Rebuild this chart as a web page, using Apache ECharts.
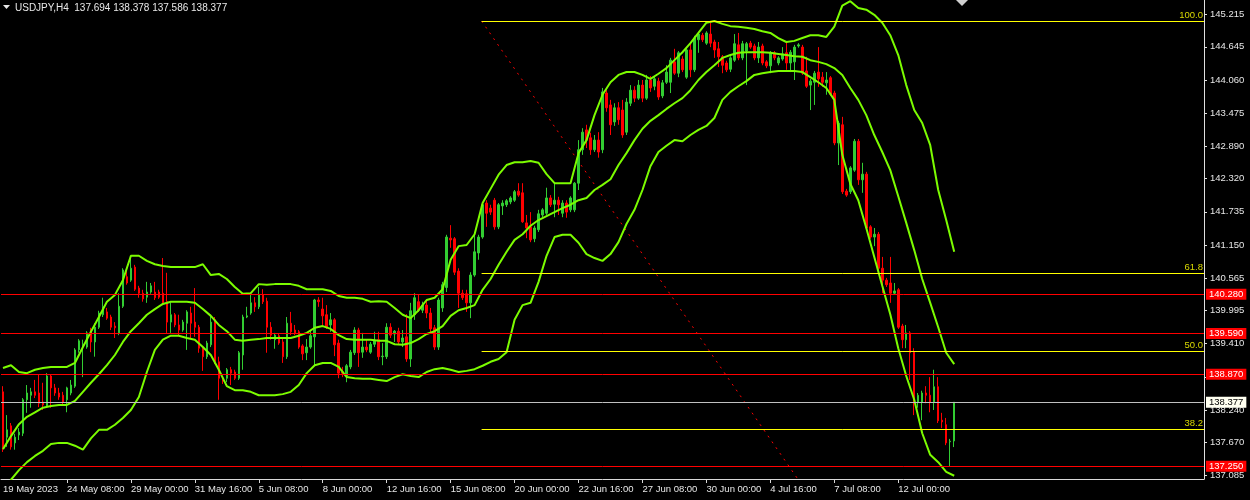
<!DOCTYPE html>
<html><head><meta charset="utf-8">
<script src="https://cdn.jsdelivr.net/npm/echarts@6.0.0/dist/echarts.min.js"></script>
<style>html,body{margin:0;padding:0;background:#000;}#c{width:1250px;height:500px;}</style>
</head><body><div id="c"></div>
<script>
const symbolTitle = 'USDJPY,H4';
const lastOHLC = [137.694, 138.378, 137.586, 138.377];
const timeLabels = ['19 May 2023','24 May 08:00','29 May 00:00','31 May 16:00','5 Jun 08:00','8 Jun 00:00','12 Jun 16:00','15 Jun 08:00','20 Jun 00:00','22 Jun 16:00','27 Jun 08:00','30 Jun 00:00','4 Jul 16:00','7 Jul 08:00','12 Jul 00:00'];
const barsPerLabel = 16;
const totalSlots = 301;
const priceTicks = [145.215,144.645,144.060,143.475,142.890,142.320,141.735,141.150,140.565,139.995,139.410,138.825,138.240,137.670,137.085];
const priceMin = 137.023, priceMax = 145.471;
// [open, close, low, high]
const candles = [
[138.56,137.57,137.50,138.66],[137.76,137.89,137.59,138.15],[137.96,137.59,137.54,138.01],[137.66,137.76,137.54,137.82],[137.80,137.85,137.71,137.92],
[137.83,138.42,137.78,138.45],[138.42,138.54,138.19,138.68],[138.50,138.56,138.28,138.63],[138.56,138.50,138.45,138.77],[138.54,138.36,138.29,138.87],
[138.38,138.33,138.24,138.72],[138.31,138.84,138.28,138.89],[138.84,138.63,138.28,138.87],[138.63,138.54,138.49,138.70],[138.54,138.47,138.42,138.63],
[138.50,138.38,138.33,138.56],[138.42,138.63,138.20,138.65],[138.54,138.68,138.50,138.77],[138.66,139.30,138.63,139.33],[139.30,139.46,139.25,139.49],
[139.37,139.40,138.82,139.48],[139.35,139.60,139.32,139.63],[139.65,139.44,139.26,139.69],[139.44,139.70,139.18,139.77],[139.70,139.95,139.67,139.99],
[139.92,140.06,139.88,140.22],[139.97,139.86,139.83,140.04],[139.88,139.70,139.65,139.92],[139.72,139.69,139.51,139.79],[139.60,140.07,139.56,140.30],
[140.07,140.71,140.04,140.74],[140.59,140.48,140.45,140.74],[140.53,140.74,140.50,140.94],[140.76,140.37,140.34,140.80],[140.39,140.30,140.22,140.43],
[140.30,140.20,140.15,140.36],[140.23,140.32,140.13,140.50],[140.32,140.43,140.29,140.48],[140.32,140.22,140.18,140.50],[140.32,140.23,140.20,140.36],
[140.30,140.13,140.09,140.92],[140.15,139.79,139.60,140.66],[139.79,139.92,139.60,140.13],[139.92,139.74,139.70,139.95],[139.74,139.65,139.56,139.92],
[139.65,139.79,139.62,139.83],[139.77,139.97,139.30,140.00],[139.95,139.77,139.51,140.06],[139.79,139.70,139.53,140.39],[139.70,139.33,139.25,139.74],
[139.33,139.18,138.93,139.37],[139.18,139.42,139.14,139.46],[139.39,139.79,139.35,139.92],[139.83,139.09,139.05,139.88],[139.09,138.80,138.42,139.18],
[138.80,138.75,138.70,138.84],[138.80,138.95,138.73,138.98],[138.95,138.89,138.68,139.00],[138.91,138.80,138.77,138.95],[138.80,139.25,138.77,139.28],
[139.21,139.88,138.95,139.92],[139.88,139.90,139.86,140.06],[139.95,140.13,139.92,140.27],[140.13,140.06,139.97,140.23],[140.06,140.27,140.02,140.41],
[140.27,140.15,140.11,140.37],[140.16,139.70,139.25,140.22],[139.70,139.56,139.48,139.79],[139.48,139.56,139.32,139.60],[139.55,139.42,139.39,139.58],
[139.44,139.18,139.07,139.51],[139.18,139.77,139.14,139.88],[139.77,139.62,139.56,139.97],[139.65,139.60,139.56,139.74],[139.62,139.35,139.32,139.65],
[139.37,139.23,139.12,139.40],[139.25,139.35,139.12,139.49],[139.35,139.55,139.32,139.65],[139.53,140.18,139.03,140.20],[140.18,140.15,140.06,140.23],
[140.02,139.90,139.74,140.22],[139.92,139.70,139.67,140.09],[139.74,139.83,139.62,139.95],[139.83,139.39,139.19,139.86],[139.42,138.89,138.80,139.48],
[138.91,138.89,138.82,139.00],[138.84,139.02,138.73,139.05],[139.00,139.26,138.96,139.30],[139.25,139.65,139.21,139.70],[139.65,139.25,139.00,139.69],
[139.26,139.35,139.16,139.60],[139.35,139.30,139.26,139.48],[139.26,139.40,139.23,139.44],[139.40,139.46,139.35,139.62],[139.48,139.18,139.12,139.62],
[139.18,139.19,139.03,139.42],[139.18,139.70,139.14,139.77],[139.70,139.56,139.51,139.77],[139.58,139.63,139.44,139.65],[139.63,139.44,139.39,139.69],
[139.44,139.51,139.35,139.65],[139.53,139.14,139.09,139.93],[139.14,139.99,139.00,140.13],[139.92,140.22,139.83,140.30],[140.15,140.00,139.97,140.27],
[140.00,140.09,139.95,140.15],[140.09,139.95,139.86,140.18],[139.95,139.67,139.60,140.04],[139.69,139.35,139.30,139.74],[139.35,140.18,139.30,140.22],
[140.04,140.45,139.97,140.50],[140.40,141.29,140.32,141.33],[141.27,141.24,141.10,141.50],[141.26,140.67,140.62,141.29],[140.69,140.30,140.04,140.74],
[140.30,140.22,140.18,140.36],[140.29,140.13,139.97,140.36],[140.13,140.62,139.86,140.67],[140.62,141.03,140.59,141.38],[141.01,141.29,140.89,141.33],
[141.29,141.86,141.26,141.89],[141.89,141.71,141.47,141.94],[141.80,141.73,141.68,141.86],[141.94,141.47,141.42,141.98],[141.47,141.86,141.43,141.89],
[141.84,141.89,141.68,141.94],[141.86,141.93,141.82,141.96],[141.91,141.98,141.87,142.01],[141.94,142.09,141.91,142.12],[142.10,142.03,142.00,142.24],
[142.07,141.56,141.54,142.24],[141.54,141.45,141.27,141.68],[141.47,141.24,141.20,141.73],[141.26,141.45,141.20,141.49],[141.42,141.70,141.38,141.77],
[141.68,141.77,141.64,141.80],[141.71,141.98,141.68,142.16],[141.98,141.86,141.82,142.03],[141.87,141.94,141.64,142.26],[141.94,141.86,141.68,142.00],
[141.71,141.89,141.64,141.94],[141.89,141.73,141.63,141.94],[141.77,141.98,141.73,142.01],[141.77,142.24,141.73,142.26],[142.24,142.83,142.12,143.00],
[142.83,143.14,142.74,143.21],[143.18,143.00,142.86,143.27],[143.04,142.83,142.74,143.13],[142.83,143.00,142.79,143.09],[143.00,142.79,142.69,143.14],
[142.83,143.85,142.77,143.92],[143.83,143.57,143.50,143.88],[143.62,143.27,143.09,143.71],[143.32,143.57,143.25,143.65],[143.57,143.36,143.27,143.67],
[143.53,143.09,143.04,143.71],[143.14,143.67,143.09,143.74],[143.65,143.88,143.60,143.97],[143.88,143.74,143.67,143.95],[143.74,143.97,143.71,144.06],
[143.97,143.74,143.67,144.06],[143.74,144.06,143.71,144.15],[144.06,143.92,143.85,144.13],[143.95,144.08,143.88,144.13],[144.04,143.76,143.71,144.10],
[143.78,144.01,143.74,144.06],[144.02,144.20,143.99,144.32],[144.02,144.41,143.83,144.45],[144.38,144.18,144.15,144.61],[144.18,144.54,144.11,144.57],
[144.43,144.24,144.20,144.48],[144.11,144.59,144.08,144.63],[144.59,144.24,144.11,144.73],[144.24,144.80,144.20,144.84],[144.77,144.87,144.54,144.91],
[144.85,144.77,144.73,144.89],[144.71,144.89,144.68,144.92],[144.87,144.71,144.64,145.07],[144.73,144.59,144.45,144.77],[144.61,144.47,144.29,144.73],
[144.47,144.32,144.18,144.50],[144.36,144.24,144.20,144.40],[144.25,144.45,144.20,144.48],[144.41,144.70,144.38,144.87],[144.68,144.45,144.41,144.89],
[144.45,144.70,144.41,144.75],[144.57,144.70,143.97,144.73],[144.71,144.64,144.61,144.75],[144.66,144.45,144.41,144.70],[144.45,144.64,144.36,144.73],
[144.66,144.36,144.32,144.70],[144.38,144.31,144.27,144.41],[144.31,144.54,144.18,144.57],[144.54,144.45,144.41,144.57],[144.36,144.45,144.32,144.48],
[144.43,144.52,144.40,144.64],[144.54,144.36,144.24,144.73],[144.36,144.55,144.20,144.59],[144.38,144.64,144.06,144.68],[144.66,144.68,144.63,144.71],
[144.64,144.18,144.15,144.68],[144.22,143.95,143.92,144.47],[143.97,144.04,143.53,144.08],[144.02,144.18,143.62,144.22],[144.20,144.08,143.94,144.64],
[144.11,144.02,143.94,144.20],[144.01,144.06,143.80,144.20],[144.10,143.81,143.78,144.13],[143.83,142.95,142.91,143.87],[142.95,143.30,142.56,143.34],
[143.27,142.09,142.05,143.41],[142.10,142.03,142.00,142.14],[142.09,142.51,142.05,142.54],[142.47,142.98,142.44,143.02],[142.98,142.30,142.21,143.02],
[142.30,142.40,142.07,142.60],[142.40,141.45,141.42,142.44],[141.47,141.29,141.26,141.50],[141.29,141.34,141.13,141.45],[141.34,140.74,140.71,141.38],
[140.74,140.53,140.30,140.94],[140.53,140.45,140.41,140.57],[140.48,140.30,140.13,140.94],[140.30,140.34,140.27,140.48],[140.36,139.70,139.67,140.39],
[139.72,139.48,139.33,139.76],[139.48,139.60,139.33,139.74],[139.60,139.25,138.77,139.63],[139.26,138.38,138.15,139.33],[138.38,138.50,138.28,138.54],
[138.38,138.54,138.06,138.58],[138.54,138.50,138.36,138.66],[138.50,138.38,138.20,138.82],[138.38,138.65,138.24,138.95],[138.65,138.05,138.01,138.82],
[138.06,138.03,137.92,138.19],[137.98,137.66,137.62,138.10],[137.68,137.69,137.24,137.73],[137.694,138.377,137.586,138.378]
];
// band values read every 2nd bar (bars 0,2,4,...,238)
const bandUpper = [
138.98,139.03,138.91,138.89,138.95,138.98,139.00,139.00,139.00,139.07,
139.35,139.62,139.88,140.15,140.27,140.53,140.96,140.96,140.87,140.81,
140.78,140.76,140.76,140.76,140.76,140.81,140.62,140.64,140.55,140.41,
140.29,140.30,140.46,140.45,140.46,140.46,140.46,140.43,140.37,140.37,
140.37,140.34,140.25,140.22,140.22,140.20,140.15,140.16,140.15,140.04,
139.92,139.86,140.00,140.18,140.22,140.37,140.89,141.13,141.15,141.34,
141.89,142.14,142.39,142.56,142.61,142.61,142.63,142.60,142.40,142.24,
142.24,142.24,142.77,143.00,143.44,143.80,144.02,144.15,144.20,144.20,
144.15,144.08,144.17,144.27,144.41,144.55,144.71,144.89,145.07,145.10,
145.05,145.01,145.00,144.98,144.96,144.92,144.89,144.80,144.73,144.75,
144.80,144.85,144.85,144.82,145.00,145.37,145.45,145.33,145.30,145.21,
145.07,144.85,144.50,143.97,143.53,143.30,142.91,142.12,141.59,141.03];
const bandMiddle = [
137.55,137.78,137.99,138.12,138.20,138.28,138.31,138.33,138.33,138.40,
138.56,138.72,138.87,139.03,139.21,139.44,139.63,139.77,139.92,140.02,
140.11,140.15,140.15,140.15,140.13,140.02,139.90,139.74,139.63,139.48,
139.46,139.48,139.49,139.51,139.51,139.51,139.51,139.55,139.60,139.69,
139.72,139.67,139.56,139.49,139.48,139.48,139.48,139.46,139.46,139.40,
139.39,139.42,139.49,139.58,139.63,139.72,139.90,140.00,140.04,140.09,
140.36,140.55,140.80,141.03,141.24,141.34,141.49,141.59,141.66,141.73,
141.80,141.86,141.94,141.98,142.12,142.21,142.31,142.56,142.77,143.00,
143.20,143.34,143.44,143.55,143.65,143.74,143.88,144.06,144.20,144.32,
144.45,144.50,144.54,144.55,144.55,144.55,144.54,144.52,144.50,144.48,
144.47,144.41,144.38,144.34,144.27,144.15,143.92,143.71,143.44,143.09,
142.79,142.47,142.01,141.54,141.06,140.55,140.13,139.70,139.25,139.05];
const bandLower = [
136.79,137.01,137.18,137.32,137.43,137.52,137.64,137.66,137.66,137.61,
137.54,137.74,137.89,137.89,137.98,138.10,138.24,138.47,138.91,139.30,
139.48,139.55,139.55,139.51,139.48,139.35,139.21,138.95,138.66,138.59,
138.59,138.56,138.50,138.50,138.50,138.52,138.56,138.68,138.89,139.03,
139.07,139.07,139.00,138.82,138.80,138.79,138.79,138.77,138.75,138.82,
138.87,138.84,138.82,138.91,138.96,138.98,138.95,138.91,138.93,138.96,
139.02,139.09,139.14,139.26,139.83,140.09,140.13,140.50,140.96,141.29,
141.33,141.33,141.19,140.99,140.92,140.87,140.99,141.20,141.52,141.77,
142.12,142.54,142.79,142.90,143.00,142.98,143.09,143.18,143.25,143.39,
143.71,143.85,143.95,144.04,144.15,144.18,144.20,144.22,144.22,144.22,
144.20,144.11,144.02,143.92,143.71,142.74,142.23,141.94,141.45,140.94,
140.43,139.93,139.33,138.84,138.42,137.83,137.45,137.32,137.15,137.08];
const redLevels = [140.280, 139.590, 138.870, 137.250];
const bidPrice = 138.377;
const fiboLevels = [100.0, 61.8, 50.0, 38.2];
const fiboFrom = [119.75, 145.10];   // [bar, price]
const fiboTo = [233.75, 133.46];

const cats = Array.from({length: totalSlots}, (_, i) => String(i));
const expandBand = arr => { const out = new Array(candles.length).fill(null); arr.forEach((v, k) => { out[k * 2] = v; }); return out; };
const FONT = 'Liberation Sans, Arial, sans-serif';
const isLabelIdx = i => i % barsPerLabel === 0 && i / barsPerLabel < timeLabels.length;

const bandStyle = {color: '#7cfc00', width: 2};
const bandSeries = [bandUpper, bandMiddle, bandLower].map((b, k) => ({
  type: 'line', name: 'band' + k, data: expandBand(b), connectNulls: true, symbol: 'none',
  lineStyle: bandStyle, z: 4, silent: true, clip: true
}));

const boxLabel = (v, bg, fg) => ({show: true, position: 'end', distance: 2, formatter: () => v.toFixed(3),
  backgroundColor: bg, color: fg, fontSize: 9.5, fontFamily: FONT, padding: [1, 3, 0, 3]});

const hLines = redLevels.map(v => ({yAxis: v, lineStyle: {color: '#ff0000', width: 1, type: 'solid'}, label: boxLabel(v, '#ff0000', '#ffffff')}));
hLines.push({yAxis: bidPrice, lineStyle: {color: '#c0c0c0', width: 1, type: 'solid'}, label: boxLabel(bidPrice, '#fffff0', '#000000')});

const fiboRange = fiboFrom[1] - fiboTo[1];
const fiboLines = fiboLevels.map(l => {
  const p = fiboTo[1] + fiboRange * l / 100;
  return [{coord: [fiboFrom[0], p], lineStyle: {color: '#ffff00', width: 1, type: 'solid'},
    label: {show: true, position: 'insideEndTop', distance: [1, 1], formatter: l.toFixed(1), color: '#d8d800', fontSize: 9.5, fontFamily: FONT}},
    {coord: [totalSlots - 0.5, p]}];
});

const option = {
  backgroundColor: '#000000',
  animation: false,
  textStyle: {fontFamily: FONT},
  title: {text: symbolTitle + '  ' + lastOHLC.map(v => v.toFixed(3)).join(' '), left: 15, top: 3, padding: 0,
    textStyle: {color: '#e8e8e8', fontSize: 10, fontWeight: 'normal', fontFamily: FONT}},
  grid: {left: -1, right: 46, top: 0, bottom: 21, containLabel: false},
  xAxis: [{
    type: 'category', data: cats, boundaryGap: true,
    axisLine: {show: true, onZero: false, lineStyle: {color: '#d8d8d8', width: 1}},
    axisTick: {show: true, alignWithLabel: true, length: 4, interval: i => i > 0 && isLabelIdx(i), lineStyle: {color: '#d8d8d8'}},
    axisLabel: {interval: i => isLabelIdx(i), formatter: (v, i) => timeLabels[Math.round(i / barsPerLabel)] || '',
      align: 'left', color: '#e6e6e6', fontSize: 9.5, fontFamily: FONT, margin: 5},
    splitLine: {show: false}
  }, {
    type: 'value', min: -0.5, max: totalSlots - 0.5, show: false,
    axisLine: {show: false, onZero: false}, axisTick: {show: false}, axisLabel: {show: false}, splitLine: {show: false}
  }],
  yAxis: {
    type: 'value', position: 'right', min: priceMin, max: priceMax,
    axisLine: {show: true, onZero: false, lineStyle: {color: '#e0e0e0', width: 1}},
    axisTick: {show: true, length: 3, customValues: priceTicks, lineStyle: {color: '#e0e0e0'}},
    axisLabel: {customValues: priceTicks, formatter: v => v.toFixed(3), color: '#e6e6e6', fontSize: 9.5, fontFamily: FONT, margin: 6},
    splitLine: {show: false}
  },
  graphic: [
    {type: 'polygon', shape: {points: [[3, 5], [10, 5], [6.5, 9]]}, style: {fill: '#e8e8e8'}},
    {type: 'polygon', shape: {points: [[956, 0], [968, 0], [962, 6]]}, style: {fill: '#d0d0d0'}}
  ],
  series: [
    {
      type: 'candlestick', data: candles, barWidth: 2, z: 3,
      itemStyle: {color: '#32cd32', color0: '#ff0000', borderColor: '#32cd32', borderColor0: '#ff0000', borderWidth: 1},
      markLine: {symbol: 'none', silent: true, animation: false, precision: 3, data: hLines}
    },
    {
      type: 'line', name: 'fibo', xAxisIndex: 1, yAxisIndex: 0, data: [fiboFrom, fiboTo], symbol: 'none', clip: true, z: 2,
      lineStyle: {color: '#ff0000', width: 1, type: [2, 5]}, silent: true,
      markLine: {symbol: 'none', silent: true, animation: false, data: fiboLines}
    },
    ...bandSeries
  ]
};
const chart = echarts.init(document.getElementById('c'));
chart.setOption(option);
</script>
</body></html>
